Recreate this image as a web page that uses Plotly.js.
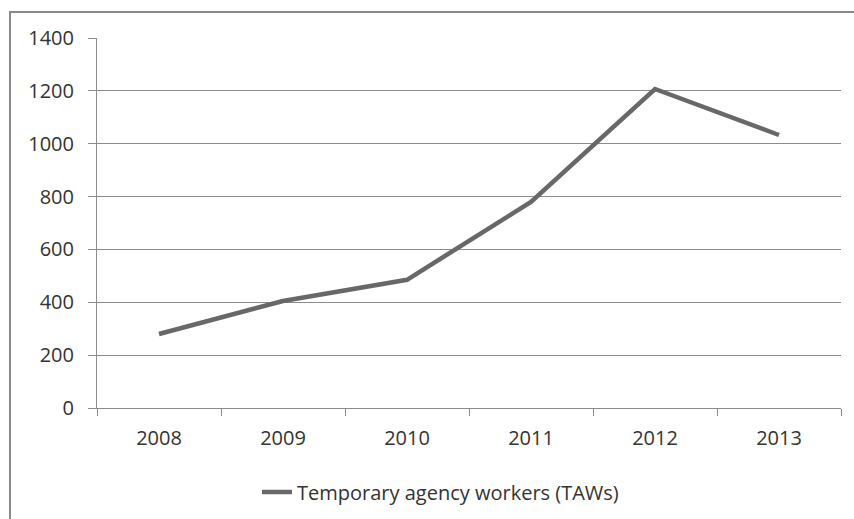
<!DOCTYPE html>
<html>
<head>
<meta charset="utf-8">
<script src="https://cdn.plot.ly/plotly-3.0.1.min.js"></script>
<style>html,body{margin:0;padding:0;background:#fff;}#chart{width:854px;height:519px;}</style>
</head>
<body>
<div id="chart"></div>
<script>
const years = ["2008", "2009", "2010", "2011", "2012", "2013"];
const taws = [280, 405, 485, 780, 1207, 1033];
const seriesName = "Temporary agency workers (TAWs)";
const yTicks = [0, 200, 400, 600, 800, 1000, 1200, 1400];

const font = {family: "Open Sans, Noto Sans, sans-serif", size: 20, color: "#333"};
const plotL = 97, plotR = 841, plotT = 38, plotB = 408;
const pw = plotR - plotL, ph = plotB - plotT;

const trace = {
  x: years, y: taws, type: "scatter", mode: "lines", name: seriesName,
  line: {color: "#686868", width: 4.5}
};

const layout = {
  width: 854, height: 519,
  margin: {l: plotL, r: 854 - plotR, t: plotT, b: 519 - plotB, pad: 0, autoexpand: false},
  paper_bgcolor: "#fff", plot_bgcolor: "#fff",
  font: font,
  showlegend: true,
  legend: {orientation: "h", x: (257 - plotL) / pw, xanchor: "left", y: -(492 - plotB) / ph, yanchor: "middle",
           font: font, bgcolor: "rgba(0,0,0,0)"},
  xaxis: {type: "category", range: [-0.5, 5.5], tickson: "boundaries", ticks: "outside", ticklen: 7, tickcolor: "#8c8c8c",
          showline: true, linecolor: "#8c8c8c", linewidth: 1, showgrid: false, zeroline: false, automargin: false,
          tickfont: font, ticklabelstandoff: 12, fixedrange: true},
  yaxis: {range: [0, 1400], tickvals: yTicks, ticks: "outside", ticklen: 8, tickcolor: "#8c8c8c",
          showline: true, linecolor: "#8c8c8c", linewidth: 1, showgrid: true, gridcolor: "#8c8c8c", automargin: false,
          gridwidth: 1, zeroline: false, tickfont: font, ticklabelstandoff: 10, fixedrange: true},
  shapes: [{type: "rect", xref: "paper", yref: "paper",
            x0: (10 - plotL) / pw, x1: (900 - plotL) / pw,
            y0: -(560 - plotB) / ph, y1: (plotB - 12) / ph,
            line: {color: "#8a8a8a", width: 2}, layer: "above"}]
};

Plotly.newPlot("chart", [trace], layout, {displayModeBar: false, staticPlot: true});
</script>
</body>
</html>
